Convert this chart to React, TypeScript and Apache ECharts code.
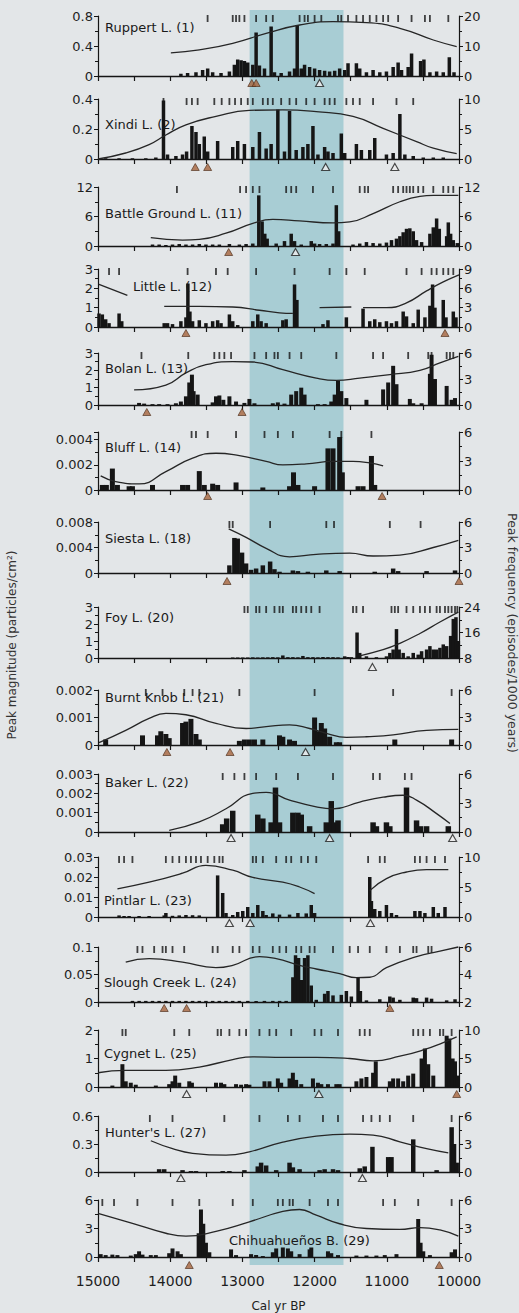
import React, { useEffect, useRef } from "react";
import * as echarts from "echarts";

type Pt = [number, number];

const BAND: [number, number] = [12900, 11600];

// ---------- Ruppert L. (1)
const ruppertBars: Pt[] = [[13852,0.03],[13759,0.04],[13643,0.05],[13551,0.08],[13481,0.1],[13412,0.05],[13296,0.04],[13180,0.06],[13111,0.15],[13065,0.22],[13018,0.21],[12972,0.2],[12926,0.18],[12856,0.15],[12810,0.58],[12764,0.14],[12694,0.1],[12602,0.66],[12556,0.05],[12463,0.04],[12347,0.06],[12278,0.1],[12241,0.68],[12185,0.1],[12139,0.15],[12069,0.12],[12000,0.1],[11931,0.08],[11861,0.07],[11792,0.06],[11722,0.07],[11653,0.1],[11583,0.08],[11537,0.17],[11421,0.17],[11375,0.1],[11282,0.05],[11190,0.08],[11097,0.05],[11005,0.06],[10912,0.12],[10843,0.18],[10796,0.08],[10704,0.12],[10657,0.3],[10532,0.2],[10486,0.22],[10403,0.05],[10310,0.06],[10218,0.05],[10134,0.25],[10069,0.05]];
const ruppertEvents = [13482,13134,13088,13042,12972,12810,12671,12579,12208,12139,12093,12000,11907,11676,11630,11537,11421,11329,11236,11144,11051,10981,10843,10657,10472,10403,10148];
const ruppertFreq: Pt[] = [[13991,7.7],[13597,8.7],[13134,10.9],[12671,14.2],[12208,17],[11745,18.1],[11282,17.8],[10819,15.9],[10356,12],[10032,9.8]];
const ruppertFilled = [12870,12810];
const ruppertOpen = [11931];

// ---------- Xindi L. (2)
const xindiBars: Pt[] = [[14894,0.005],[14708,0.005],[14523,0.005],[14338,0.005],[14199,0.01],[14093,0.39],[14037,0.03],[13921,0.02],[13829,0.03],[13773,0.05],[13699,0.22],[13643,0.18],[13597,0.1],[13528,0.15],[13481,0.05],[13343,0.12],[13134,0.08],[13065,0.12],[12972,0.1],[12856,0.08],[12764,0.18],[12671,0.07],[12602,0.1],[12509,0.33],[12417,0.05],[12347,0.32],[12255,0.06],[12162,0.08],[12093,0.1],[12023,0.22],[11954,0.03],[11861,0.08],[11815,0.05],[11745,0.04],[11630,0.17],[11583,0.04],[11421,0.1],[11352,0.06],[11236,0.06],[11167,0.14],[11005,0.03],[10912,0.04],[10819,0.3],[10750,0.03],[10634,0.02],[10495,0.01],[10356,0.01],[10218,0.01]];
const xindiEvents = [14093,13773,13699,13620,13389,13287,13180,13102,13018,12926,12856,12717,12648,12579,12463,12347,12255,12116,12000,11861,11792,11722,11560,11468,11375,11190,10866,10634];
const xindiFreq: Pt[] = [[15000,0],[14616,1],[14292,2.4],[14060,4],[13782,5.7],[13366,7.1],[12903,8.1],[12440,8.2],[11977,7.9],[11468,7.1],[11051,5.1],[10588,2.9],[10356,1.8],[10032,0.9]];
const xindiFilled = [13653,13481];
const xindiOpen = [11847,10889];

// ---------- Battle Ground L. (11)
const battleBars: Pt[] = [[14245,0.3],[14153,0.3],[14060,0.2],[13968,0.3],[13875,0.4],[13782,0.3],[13690,0.3],[13597,0.4],[13505,0.3],[13412,0.3],[13319,0.3],[13180,0.4],[13042,0.3],[12949,0.4],[12856,0.5],[12773,10.3],[12727,5],[12690,2.5],[12657,1.5],[12532,0.5],[12417,1],[12324,2.5],[12278,1],[12185,0.3],[12046,1],[12000,0.5],[11931,0.4],[11838,0.4],[11745,0.5],[11699,8.3],[11667,3],[11468,0.3],[11375,0.5],[11282,0.8],[11190,0.6],[11097,0.5],[11005,0.7],[10935,1.2],[10866,1.5],[10819,2],[10773,2.8],[10727,3.5],[10681,3.6],[10634,3],[10588,1.2],[10518,0.8],[10403,2.5],[10356,3.8],[10310,5.6],[10273,3.5],[10171,2],[10148,4.8],[10116,2.5],[10079,1.2],[10023,0.6]];
const battleEvents = [13907,13032,12949,12856,12764,12394,12324,12255,12023,11745,11375,11306,11259,10912,10843,10773,10727,10681,10634,10565,10495,10356,10218,10148,10079];
const battleFreq: Pt[] = [[14269,1.7],[13829,1.2],[13597,1.35],[13227,2.6],[12856,4.6],[12579,5.4],[12208,5.1],[11745,4.7],[11514,4.9],[11190,6.6],[10819,9],[10541,10.1],[10356,10.3],[10009,10.3]];
const battleFilled = [13190];
const battleOpen = [12264];

// ---------- Little L. (12)
const littleBars: Pt[] = [[14986,0.7],[14940,0.65],[14894,0.4],[14847,0.2],[14708,0.7],[14671,0.3],[14083,0.2],[14037,0.2],[13968,0.15],[13852,0.3],[13782,0.5],[13755,2.25],[13727,0.8],[13690,0.3],[13597,0.35],[13505,0.2],[13412,0.3],[13343,0.35],[13296,0.2],[13180,0.65],[13134,0.3],[13065,0.1],[12856,0.3],[12787,0.65],[12741,0.3],[12671,0.2],[12440,0.35],[12394,0.4],[12278,2.2],[12245,1.4],[11884,0.15],[11815,0.35],[11560,0.5],[11329,0.95],[11236,0.3],[11167,0.4],[11097,0.25],[11005,0.3],[10935,0.2],[10866,0.3],[10773,0.8],[10727,0.55],[10634,0.2],[10565,0.9],[10472,0.5],[10403,1.1],[10366,2.2],[10333,1],[10218,1.4],[10180,0.5],[10079,0.8],[10042,0.5]];
const littleEvents = [14847,14708,13759,13366,13204,12810,12278,11792,11560,11306,10727,10518,10380,10310,10218,10148,10079];
const littleFreqA: Pt[] = [[14986,6.6],[14593,4.9]];
const littleFreqB: Pt[] = [[14083,3.2],[13597,3.2],[13134,3.1],[12764,2.6],[12486,2.2],[12301,2.1]];
const littleFreqC: Pt[] = [[11931,3],[11491,3.1]];
const littleFreqD: Pt[] = [[11329,3],[11005,3],[10727,3.75],[10449,5.6],[10218,7],[10000,8.1]];
const littleFilled = [13782,10194];
const littleOpen: number[] = [];

// ---------- Bolan L. (13)
const bolanBars: Pt[] = [[14431,0.12],[14361,0.08],[14245,0.05],[14153,0.05],[14037,0.05],[13921,0.1],[13852,0.2],[13782,0.5],[13736,1.3],[13699,1.75],[13676,0.8],[13620,0.6],[13412,0.15],[13366,0.5],[13319,0.55],[13264,0.3],[13180,0.5],[13088,0.2],[12972,0.12],[12903,0.35],[12833,0.1],[12579,0.1],[12509,0.15],[12417,0.08],[12324,0.6],[12255,0.8],[12185,1.0],[12139,0.6],[11954,0.05],[11861,0.05],[11769,0.2],[11722,0.6],[11676,1.4],[11630,0.8],[11560,0.4],[11282,0.3],[11051,0.9],[10981,1.3],[10912,2.26],[10866,1.2],[10681,0.35],[10634,0.1],[10518,0.1],[10403,1.8],[10380,2.9],[10333,1.5],[10171,1.1],[10102,0.3],[10055,0.4]];
const bolanEvents = [14398,13750,13389,13319,13250,13157,12833,12671,12556,12509,12347,12185,11699,11190,11051,10704,10426,10380,10171,10125,10079];
const bolanFreq: Pt[] = [[14500,1.74],[14060,2.3],[13782,3.7],[13505,4.65],[13134,5],[12856,4.96],[12440,4.07],[11977,3.1],[11699,2.83],[11375,3.1],[10958,3.5],[10541,4],[10264,4.85],[10009,5.6]];
const bolanFilled = [14324,13005];
const bolanOpen: number[] = [];

// ---------- Bluff L. (14)
const bluffBars: Pt[] = [[14940,0.0004],[14884,0.0004],[14801,0.0017],[14731,0.0004],[14569,0.0003],[14523,0.0003],[14245,0.0004],[13829,0.0004],[13759,0.0004],[13597,0.0015],[13528,0.0004],[13412,0.0005],[13343,0.0004],[13088,0.0006],[12717,0.0002],[12347,0.0003],[12292,0.0014],[12231,0.0004],[12000,0.0003],[11815,0.0033],[11745,0.0033],[11653,0.0042],[11616,0.0014],[11398,0.0003],[11329,0.0003],[11213,0.0027],[11167,0.0004]];
const bluffEvents = [13704,13643,13481,13088,12694,12509,12301,11792,11630,11213];
const bluffFreq: Pt[] = [[14963,1.46],[14755,0.87],[14431,0.63],[14060,1.9],[13690,3.3],[13366,3.8],[13042,3.55],[12671,2.96],[12440,2.6],[12116,2.7],[11745,2.96],[11468,2.96],[11236,2.8],[11051,2.5]];
const bluffFilled = [13481,11065];
const bluffOpen: number[] = [];

// ---------- Siesta L. (18)
const siestaBars: Pt[] = [[13180,0.0012],[13111,0.0055],[13065,0.0054],[13005,0.0032],[12949,0.0015],[12880,0.0005],[12810,0.0007],[12717,0.0012],[12616,0.0018],[12556,0.0006],[12486,0.0002],[12301,0.0004],[12231,0.0003],[12093,0.0002],[11838,0.0004],[11653,0.0003],[11167,0.0002],[10912,0.0007],[10843,0.0003],[10449,0.0003],[10055,0.0004]];
const siestaEvents = [13180,13134,12616,11838,11731,10958,10532];
const siestaFreq: Pt[] = [[13190,5.2],[12949,4.2],[12671,2.9],[12347,1.9],[11977,2.2],[11514,2.35],[11190,2.0],[10819,2.1],[10356,3.0],[10009,3.84]];
const siestaFilled = [13213,10000];
const siestaOpen: number[] = [];

// ---------- Foy L. (20)
const foyBars: Pt[] = [[13134,0.03],[13065,0.03],[12995,0.03],[12926,0.03],[12856,0.04],[12787,0.03],[12717,0.04],[12648,0.04],[12579,0.05],[12509,0.04],[12440,0.15],[12370,0.05],[12301,0.05],[12231,0.04],[12162,0.12],[12093,0.05],[12023,0.05],[11954,0.04],[11884,0.06],[11815,0.05],[11745,0.05],[11676,0.04],[11583,0.1],[11537,0.06],[11491,0.05],[11412,1.5],[11375,0.3],[11282,0.1],[11144,0.05],[11005,0.1],[10958,0.3],[10912,0.5],[10866,1.7],[10829,0.5],[10773,0.3],[10704,0.1],[10634,0.3],[10565,0.2],[10518,0.4],[10449,0.5],[10403,0.7],[10356,0.5],[10310,0.5],[10264,0.6],[10218,0.8],[10171,0.7],[10116,1.3],[10079,2.3],[10042,2.4],[10009,1.0]];
const foyEvents = [12972,12926,12810,12764,12671,12556,12486,12440,12301,12255,12185,12116,12046,11931,11468,11421,11329,10935,10889,10843,10727,10634,10541,10472,10403,10310,10264,10194,10148,10102,10055,10023];
const foyFreq: Pt[] = [[11375,8.7],[11051,10.6],[10819,12.6],[10541,15.7],[10264,19.3],[10009,22.4]];
const foyFilled: number[] = [];
const foyOpen = [11199];

// ---------- Burnt Knob L. (21)
const burntBars: Pt[] = [[14894,0.0002],[14384,0.00035],[14176,0.00035],[14130,0.0005],[14060,0.0004],[14014,0.00025],[13829,0.0008],[13782,0.00085],[13713,0.00095],[13643,0.0004],[13597,0.0002],[13042,0.00015],[12972,0.0002],[12903,0.0002],[12833,0.0002],[12717,0.0002],[12486,0.00035],[12440,0.0003],[12347,0.0002],[12278,0.00015],[12000,0.001],[11954,0.0005],[11907,0.0008],[11861,0.0006],[11792,0.0003],[11699,0.0001],[11653,0.0001],[10889,0.0002],[10102,0.0002]];
const burntEvents = [14338,14106,13805,13690,13597,13042,12000,10912,10102];
const burntFreq: Pt[] = [[14986,0.25],[14616,1.6],[14292,2.9],[14060,3.45],[13782,3.3],[13366,2.36],[12949,1.8],[12671,2.0],[12347,2.2],[12069,1.8],[11838,1.27],[11560,0.84],[11282,0.9],[10912,1.1],[10449,1.6],[10009,1.7]];
const burntFilled = [14046,13171];
const burntOpen = [12125];

// ---------- Baker L. (22)
const bakerBars: Pt[] = [[13273,0.0004],[13218,0.0007],[13134,0.0011],[12787,0.0009],[12717,0.0007],[12602,0.0005],[12542,0.0023],[12486,0.0005],[12301,0.001],[12231,0.001],[12185,0.0009],[12069,0.0003],[11838,0.0005],[11769,0.0016],[11722,0.0005],[11676,0.0006],[11190,0.0005],[11144,0.0003],[11005,0.0005],[10958,0.0003],[10727,0.0023],[10588,0.0006],[10532,0.0003],[10449,0.0003],[10148,0.0003]];
const bakerEvents = [13273,13111,12972,12810,12532,12231,11745,11190,11097,10750,10657];
const bakerFreq: Pt[] = [[14014,0.17],[13597,1.04],[13227,2.4],[12856,4.0],[12671,4.1],[12347,3.3],[11977,2.6],[11745,2.4],[11375,3.1],[11051,3.6],[10773,3.8],[10588,3.3],[10310,1.9],[10125,0.87]];
const bakerFilled: number[] = [];
const bakerOpen = [13157,11792,10088];

// ---------- Pintlar L. (23)
const pintlarBars: Pt[] = [[14708,0.0008],[14639,0.0005],[14569,0.0005],[14431,0.0005],[14292,0.0005],[14083,0.0008],[14060,0.002],[13968,0.0006],[13875,0.0008],[13782,0.001],[13690,0.0009],[13597,0.0008],[13343,0.0208],[13273,0.012],[13227,0.002],[13134,0.001],[13065,0.0025],[12995,0.003],[12926,0.005],[12856,0.002],[12787,0.006],[12717,0.003],[12671,0.001],[12579,0.0018],[12486,0.0012],[12347,0.0012],[12231,0.002],[12116,0.0018],[12046,0.006],[12000,0.002],[11236,0.02],[11213,0.008],[11167,0.004],[11097,0.003],[11005,0.006],[10935,0.002],[10866,0.001],[10611,0.003],[10541,0.003],[10472,0.002],[10356,0.005],[10287,0.002],[10194,0.005]];
const pintlarEvents = [14708,14639,14523,14060,13968,13875,13782,13713,13643,13574,13481,13389,13319,13273,12856,12810,12717,12532,12394,12324,12185,12093,11977,11259,11097,11028,10611,10541,10449,10333,10194];
const pintlarFreqA: Pt[] = [[14731,4.7],[14292,5.8],[13829,7.3],[13505,8.6],[13134,7.8],[12856,6.6],[12440,5.8],[12208,5.0],[12000,3.9]];
const pintlarFreqB: Pt[] = [[11236,4.4],[11005,6.4],[10727,7.5],[10449,7.9],[10148,7.9]];
const pintlarFilled: number[] = [];
const pintlarOpen = [13180,12893,11227];

// ---------- Slough Creek L. (24)
const sloughBars: Pt[] = [[14523,0.002],[14430,0.002],[14338,0.002],[14245,0.002],[14153,0.002],[14060,0.002],[13968,0.002],[13875,0.002],[13782,0.002],[13690,0.002],[13597,0.002],[13505,0.002],[13412,0.002],[13320,0.002],[13227,0.002],[13135,0.002],[13042,0.002],[12925,0.002],[12810,0.002],[12695,0.002],[12579,0.002],[12485,0.002],[12394,0.002],[12301,0.045],[12264,0.085],[12222,0.08],[12185,0.04],[12139,0.08],[12093,0.085],[12046,0.03],[11977,0.004],[11861,0.015],[11815,0.02],[11745,0.012],[11630,0.013],[11560,0.02],[11491,0.01],[11398,0.045],[11366,0.02],[11282,0.003],[11097,0.005],[10958,0.01],[10912,0.008],[10819,0.004],[10634,0.008],[10588,0.007],[10449,0.008],[10380,0.006],[10171,0.003],[10055,0.005]];
const sloughEvents = [14454,14384,14222,14106,14060,13968,13806,13412,13343,13134,13042,12856,12764,12579,12486,12394,12255,12185,12069,12000,11745,11514,11398,11236,11005,10819,10634,10588,10426,10380];
const sloughFreq: Pt[] = [[14616,4.9],[14292,5.15],[13829,4.9],[13366,4.5],[13134,4.67],[12764,5.3],[12532,5.15],[12208,4.67],[11977,4.4],[11653,4.06],[11421,3.77],[11236,3.8],[11005,4.5],[10588,5.3],[10264,5.7],[10009,6.0]];
const sloughFilled = [14083,13773,10958];
const sloughOpen: number[] = [];

// ---------- Cygnet L. (25)
const cygnetBars: Pt[] = [[14801,0.05],[14662,0.8],[14616,0.2],[14546,0.15],[14477,0.08],[14199,0.05],[14014,0.1],[13968,0.2],[13931,0.4],[13875,0.15],[13736,0.2],[13699,0.15],[13366,0.15],[13296,0.15],[13250,0.1],[13088,0.1],[13018,0.08],[12949,0.1],[12903,0.08],[12694,0.2],[12625,0.2],[12509,0.3],[12463,0.15],[12347,0.3],[12301,0.5],[12255,0.25],[12185,0.1],[12023,0.3],[11954,0.15],[11907,0.1],[11815,0.1],[11699,0.1],[11653,0.1],[11421,0.2],[11352,0.3],[11282,0.35],[11190,0.5],[11153,0.9],[10958,0.2],[10912,0.3],[10843,0.3],[10773,0.2],[10704,0.4],[10634,0.47],[10518,1.0],[10472,1.35],[10426,0.8],[10356,0.4],[10171,1.8],[10134,1.7],[10088,1.0],[10055,0.9],[10023,0.4]];
const cygnetEvents = [14662,14616,13944,13736,13343,13296,13180,13042,12949,12764,12625,12532,12324,12000,11907,11676,11375,11306,11236,10634,10565,10495,10403,10264,10218,10102];
const cygnetFreq: Pt[] = [[15000,2.5],[14616,2.9],[14060,2.9],[13597,3.5],[13134,4.8],[12856,5.3],[12440,5.2],[11977,5.2],[11514,5.0],[11190,4.6],[10819,5.4],[10495,6.5],[10218,7.8],[10032,8.8]];
const cygnetFilled = [10032];
const cygnetOpen = [13773,11940];

// ---------- Hunter's L. (27)
const hunterBars: Pt[] = [[14153,0.03],[14083,0.03],[13829,0.02],[13713,0.01],[13643,0.01],[13273,0.01],[13180,0.01],[12972,0.02],[12787,0.06],[12741,0.1],[12671,0.07],[12532,0.02],[12347,0.1],[12301,0.05],[12208,0.03],[11931,0.02],[11861,0.03],[11745,0.03],[11676,0.02],[11375,0.04],[11306,0.06],[11199,0.27],[10981,0.16],[10935,0.16],[10634,0.35],[10310,0.02],[10102,0.48],[10069,0.3],[10032,0.1]];
const hunterEvents = [14282,13968,13250,12764,12370,12208,11884,11676,11329,11213,11097,10958,10634,10102];
const hunterFreq: Pt[] = [[14268,3.35],[13968,2.5],[13690,2.0],[13227,1.8],[12903,2.16],[12440,3.2],[11977,3.85],[11514,4.06],[11190,3.96],[10819,3.24],[10449,2.5],[10148,2.05]];
const hunterFilled: number[] = [];
const hunterOpen = [13852,11338];

// ---------- Chihuahueños B. (29)
const chihBars: Pt[] = [[14963,0.3],[14894,0.2],[14801,0.25],[14731,0.2],[14546,0.15],[14477,0.3],[14431,0.6],[14384,0.25],[14269,0.2],[14199,0.2],[14014,0.4],[13968,0.9],[13898,0.6],[13852,0.3],[13606,2.5],[13574,5.0],[13542,3.5],[13505,1.5],[13458,0.5],[13157,0.8],[13088,0.2],[12880,0.3],[12810,0.2],[12717,0.1],[12579,0.5],[12532,0.9],[12440,1.0],[12370,0.9],[12324,0.6],[12208,0.3],[12069,0.8],[12046,1.0],[11815,0.6],[11769,0.4],[11676,0.2],[11421,0.15],[11282,0.15],[11144,0.15],[11028,0.2],[10866,0.3],[10565,4.0],[10532,1.5],[10495,0.6],[10403,0.2],[10102,0.5],[10055,0.8]];
const chihEvents = [14940,14778,14454,13968,13597,13134,12856,12509,12440,12347,12301,12069,11815,11676,11051,10889,10565,10102];
const chihFreq: Pt[] = [[15000,4.6],[14523,3.55],[14060,2.5],[13782,2.2],[13366,2.7],[12903,3.7],[12440,4.8],[12208,5.0],[11977,4.4],[11653,3.5],[11282,3.0],[10819,2.9],[10541,3.1],[10264,2.85],[10009,2.2]];
const chihFilled = [13736,10273];
const chihOpen: number[] = [];

// magnitude axis [max, interval]; frequency axis [min, max, interval]
const PANELS = [
  { name: "Ruppert L. (1)", bars: ruppertBars, events: ruppertEvents, freq: [ruppertFreq], filled: ruppertFilled, open: ruppertOpen, mag: [0.8, 0.4], fq: [0, 20, 10] },
  { name: "Xindi L. (2)", bars: xindiBars, events: xindiEvents, freq: [xindiFreq], filled: xindiFilled, open: xindiOpen, mag: [0.4, 0.2], fq: [0, 10, 5] },
  { name: "Battle Ground L. (11)", bars: battleBars, events: battleEvents, freq: [battleFreq], filled: battleFilled, open: battleOpen, mag: [12, 6], fq: [0, 12, 6] },
  { name: "Little L. (12)", bars: littleBars, events: littleEvents, freq: [littleFreqA, littleFreqB, littleFreqC, littleFreqD], filled: littleFilled, open: littleOpen, mag: [3, 1], fq: [0, 9, 3] },
  { name: "Bolan L. (13)", bars: bolanBars, events: bolanEvents, freq: [bolanFreq], filled: bolanFilled, open: bolanOpen, mag: [3, 1], fq: [0, 6, 3] },
  { name: "Bluff L. (14)", bars: bluffBars, events: bluffEvents, freq: [bluffFreq], filled: bluffFilled, open: bluffOpen, mag: [0.0046, 0.002], fq: [0, 6, 3] },
  { name: "Siesta L. (18)", bars: siestaBars, events: siestaEvents, freq: [siestaFreq], filled: siestaFilled, open: siestaOpen, mag: [0.008, 0.004], fq: [0, 6, 3] },
  { name: "Foy L. (20)", bars: foyBars, events: foyEvents, freq: [foyFreq], filled: foyFilled, open: foyOpen, mag: [3, 1], fq: [8, 24, 8] },
  { name: "Burnt Knob L. (21)", bars: burntBars, events: burntEvents, freq: [burntFreq], filled: burntFilled, open: burntOpen, mag: [0.002, 0.001], fq: [0, 6, 3] },
  { name: "Baker L. (22)", bars: bakerBars, events: bakerEvents, freq: [bakerFreq], filled: bakerFilled, open: bakerOpen, mag: [0.003, 0.001], fq: [0, 6, 3] },
  { name: "Pintlar L. (23)", bars: pintlarBars, events: pintlarEvents, freq: [pintlarFreqA, pintlarFreqB], filled: pintlarFilled, open: pintlarOpen, mag: [0.03, 0.01], fq: [0, 10, 5] },
  { name: "Slough Creek L. (24)", bars: sloughBars, events: sloughEvents, freq: [sloughFreq], filled: sloughFilled, open: sloughOpen, mag: [0.1, 0.05], fq: [2, 6, 2] },
  { name: "Cygnet L. (25)", bars: cygnetBars, events: cygnetEvents, freq: [cygnetFreq], filled: cygnetFilled, open: cygnetOpen, mag: [2, 1], fq: [0, 10, 5] },
  { name: "Hunter's L. (27)", bars: hunterBars, events: hunterEvents, freq: [hunterFreq], filled: hunterFilled, open: hunterOpen, mag: [0.6, 0.3], fq: [0, 6, 3] },
  { name: "Chihuahueños B. (29)", bars: chihBars, events: chihEvents, freq: [chihFreq], filled: chihFilled, open: chihOpen, mag: [6, 3], fq: [0, 6, 3] },
];

// ---------- layout / style (pixels)
// [axis top, zero line, x-axis line]
const LAYOUT = [[16,76,83],[99,159,167],[187,246,252],[269,327,333],[353,405,412],[432,490,496],[522,573,581],[607,658,667],[690,745,752],[774,832,838],[857,917,923],[947,1002,1008],[1030,1087,1094],[1116,1172,1178],[1200,1257,1265]];
const LABEL_POS = [[105,27],[105,124],[105,213],[133,286],[105,368],[105,447],[105,538],[105,617],[105,697],[105,782],[104,900],[104,982],[104,1053],[105,1132],[229,1240]];
const BAR_W = [3.5,3.5,3.5,3.5,4,5,4.5,3.5,5,5.5,3.5,3.5,4,4.5,4];
const GRID_LEFT = 98;
const GRID_RIGHT = 60;
const BG = "#e3e6e8";
const BAND_COLOR = "#a8cdd4";
const INK = "#151515";
const FONT = "DejaVu Sans";

function buildOption() {
  const n = PANELS.length;
  const grid: any[] = [];
  const xAxis: any[] = [];
  const yAxis: any[] = [];
  const series: any[] = [];
  PANELS.forEach((p, i) => {
    const [top, zero, axisY] = LAYOUT[i];
    const h = zero - top;
    const off = axisY - zero;
    const [mMax, mInt] = p.mag;
    const [fMin, fMax, fInt] = p.fq;
    const isLast = i === n - 1;
    grid.push({ left: GRID_LEFT, right: GRID_RIGHT, top, height: h });
    xAxis.push({
      gridIndex: i, type: "value", min: 10000, max: 15000, inverse: true, interval: 1000,
      offset: off,
      axisLine: { lineStyle: { color: INK, width: 1.3 } },
      axisTick: { length: 5, lineStyle: { color: INK, width: 1.2 } },
      minorTick: { show: true, splitNumber: 2, length: 5, lineStyle: { color: INK, width: 1.2 } },
      splitLine: { show: false }, minorSplitLine: { show: false },
      axisLabel: { show: isLast, fontSize: 14, color: "#1e1e1e", fontFamily: FONT, margin: 9, formatter: (v: number) => String(v) },
      name: isLast ? "Cal yr BP" : "", nameLocation: "middle", nameGap: 35,
      nameTextStyle: { fontSize: 12, color: "#1e1e1e", fontFamily: FONT },
    });
    const hideMax = Math.abs(mMax / mInt - Math.round(mMax / mInt)) > 1e-6;
    yAxis.push({
      gridIndex: i, type: "value", position: "left", min: 0, max: mMax, interval: mInt,
      axisLine: { show: true, lineStyle: { color: INK, width: 1.2 } },
      axisTick: { show: true, length: 4, lineStyle: { color: INK } },
      minorTick: { show: true, splitNumber: 2, length: 3, lineStyle: { color: INK } },
      splitLine: { show: false }, minorSplitLine: { show: false },
      axisLabel: { fontSize: 13, color: "#1e1e1e", fontFamily: FONT, margin: 5, showMaxLabel: !hideMax },
    });
    yAxis.push({
      gridIndex: i, type: "value", position: "right", min: fMin, max: fMax, interval: fInt,
      axisLine: { show: true, lineStyle: { color: INK, width: 1.2 } },
      axisTick: { show: true, length: 4, lineStyle: { color: INK } },
      minorTick: { show: true, splitNumber: 2, length: 3, lineStyle: { color: INK } },
      splitLine: { show: false }, minorSplitLine: { show: false },
      axisLabel: { fontSize: 13, color: "#1e1e1e", fontFamily: FONT, margin: 5 },
    });
    const yl = 2 * i;
    const yr = 2 * i + 1;
    series.push({
      type: "bar", xAxisIndex: i, yAxisIndex: yl, data: p.bars, barWidth: BAR_W[i],
      itemStyle: { color: INK }, z: 3,
    });
    const evY = mMax * (1 - 2.5 / h);
    series.push({
      type: "scatter", xAxisIndex: i, yAxisIndex: yl, clip: false,
      symbol: "rect", symbolSize: [1.8, 7],
      data: p.events.map((x) => [x, evY]),
      itemStyle: { color: INK }, z: 3,
    });
    p.freq.forEach((seg) => {
      series.push({
        type: "line", xAxisIndex: i, yAxisIndex: yr, data: seg, smooth: 0.5,
        showSymbol: false, symbol: "none", clip: false,
        lineStyle: { color: "#262626", width: 1.3 }, z: 4,
      });
    });
    const triY = -(off / h) * mMax;
    series.push({
      type: "scatter", xAxisIndex: i, yAxisIndex: yl, clip: false,
      symbol: "triangle", symbolSize: [8, 7],
      data: p.filled.map((x) => [x, triY]),
      itemStyle: { color: "#a5643c", borderColor: "#4a2a18", borderWidth: 0.8 }, z: 6,
    });
    series.push({
      type: "scatter", xAxisIndex: i, yAxisIndex: yl, clip: false,
      symbol: "triangle", symbolSize: [8, 7],
      data: p.open.map((x) => [x, triY]),
      itemStyle: { color: "#eeeeee", borderColor: "#1e1e1e", borderWidth: 1.1 }, z: 6,
    });
  });
  return {
    animation: false,
    backgroundColor: BG,
    grid, xAxis, yAxis, series,
  };
}

export default function App() {
  const ref = useRef<HTMLDivElement>(null);
  useEffect(() => {
    document.body.style.margin = "0";
    if (!ref.current) return;
    const chart = echarts.init(ref.current, null, { renderer: "svg" });
    chart.setOption(buildOption() as any);
    const xa = chart.convertToPixel({ xAxisIndex: 0 }, BAND[0]) as number;
    const xb = chart.convertToPixel({ xAxisIndex: 0 }, BAND[1]) as number;
    const bandTop = 10;
    const bandBottom = LAYOUT[LAYOUT.length - 1][2];
    const elements: any[] = [
      {
        id: "band", type: "rect", z: -10, silent: true,
        shape: { x: Math.min(xa, xb), y: bandTop, width: Math.abs(xb - xa), height: bandBottom - bandTop },
        style: { fill: BAND_COLOR },
      },
      ...PANELS.map((p, i) => ({
        id: "lbl" + i, type: "text", z: 10, x: LABEL_POS[i][0], y: LABEL_POS[i][1],
        style: { text: p.name, fontSize: 13, fontFamily: FONT, fill: "#1a1a1a", textVerticalAlign: "middle", textAlign: "left" },
      })),
      {
        id: "ytitleL", type: "text", z: 10, x: 12, y: 645, rotation: Math.PI / 2,
        style: { text: "Peak magnitude (particles/cm²)", fontSize: 12, fontFamily: FONT, fill: "#333", textAlign: "center", textVerticalAlign: "middle" },
      },
      {
        id: "ytitleR", type: "text", z: 10, x: 512, y: 633, rotation: -Math.PI / 2,
        style: { text: "Peak frequency (episodes/1000 years)", fontSize: 12.5, fontFamily: FONT, fill: "#333", textAlign: "center", textVerticalAlign: "middle" },
      },
    ];
    chart.setOption({ graphic: elements } as any);
    return () => chart.dispose();
  }, []);
  return <div ref={ref} style={{ width: 519, height: 1313 }} />;
}
